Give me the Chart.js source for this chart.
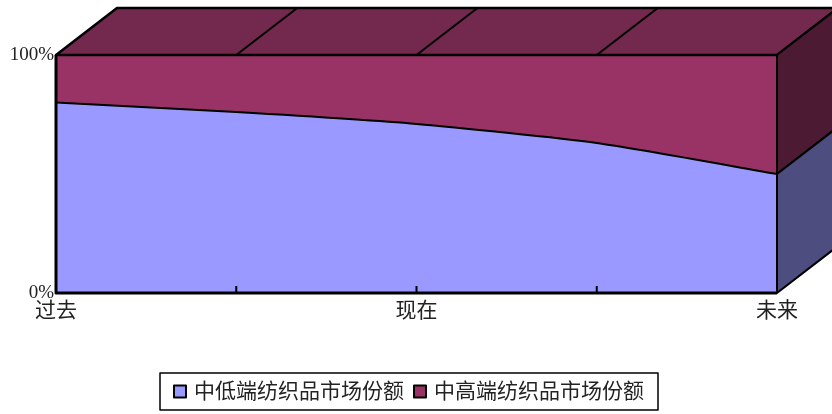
<!DOCTYPE html>
<html>
<head>
<meta charset="utf-8">
<script src="https://cdn.jsdelivr.net/npm/chart.js@4"></script>
<style>
  html, body { margin: 0; padding: 0; background: #fff; }
  #wrap { width: 832px; height: 414px; }
</style>
</head>
<body>
<div id="wrap"><canvas id="shareChart" width="832" height="414"></canvas></div>
<script>
const categories = ["过去", "", "现在", "", "未来"];
const lowEndShare = [80, 76, 71, 63, 50];
const highEndShare = [20, 24, 29, 37, 50];
const seriesNames = ["中低端纺织品市场份额", "中高端纺织品市场份额"];

const lowColor = "#9999ff";
const highColor = "#993366";
const fontFamily = "'Liberation Serif', 'Noto Sans CJK SC', serif";

// depth of the 3D box
const depthX = 61;
const depthY = -47;

const boxPlugin = {
    id: "box3d",
    afterDatasetsDraw(chart) {
        const ctx = chart.ctx;
        const area = chart.chartArea;
        const x = chart.scales.x;
        const y = chart.scales.y;
        const L = area.left, R = area.right, T = area.top, B = area.bottom;
        const yEnd = y.getPixelForValue(lowEndShare[lowEndShare.length - 1]);

        ctx.save();
        ctx.lineJoin = "round";
        ctx.strokeStyle = "#000";

        // top face
        ctx.beginPath();
        ctx.moveTo(L, T);
        ctx.lineTo(R, T);
        ctx.lineTo(R + depthX, T + depthY);
        ctx.lineTo(L + depthX, T + depthY);
        ctx.closePath();
        ctx.fillStyle = "#73284e";
        ctx.fill();
        ctx.lineWidth = 2.5;
        ctx.stroke();

        // dividers on top face
        ctx.lineWidth = 2;
        for (let i = 1; i < categories.length - 1; i++) {
            const px = x.getPixelForValue(i);
            ctx.beginPath();
            ctx.moveTo(px, T);
            ctx.lineTo(px + depthX, T + depthY);
            ctx.stroke();
        }

        // right side, upper part
        ctx.beginPath();
        ctx.moveTo(R, T);
        ctx.lineTo(R + depthX, T + depthY);
        ctx.lineTo(R + depthX, yEnd + depthY);
        ctx.lineTo(R, yEnd);
        ctx.closePath();
        ctx.fillStyle = "#4d1a33";
        ctx.fill();
        ctx.stroke();

        // right side, lower part
        ctx.beginPath();
        ctx.moveTo(R, yEnd);
        ctx.lineTo(R + depthX, yEnd + depthY);
        ctx.lineTo(R + depthX, B + depthY);
        ctx.lineTo(R, B);
        ctx.closePath();
        ctx.fillStyle = "#4d4d80";
        ctx.fill();
        ctx.stroke();

        // front edges
        ctx.lineWidth = 2;
        ctx.beginPath();
        ctx.moveTo(L, T);
        ctx.lineTo(R, T);
        ctx.lineTo(R, B);
        ctx.stroke();

        ctx.lineWidth = 3;
        ctx.beginPath();
        ctx.moveTo(L, T);
        ctx.lineTo(L, B);
        ctx.lineTo(R, B);
        ctx.stroke();

        // inward tick marks
        ctx.lineWidth = 2;
        for (let i = 1; i < categories.length - 1; i++) {
            const px = x.getPixelForValue(i);
            ctx.beginPath();
            ctx.moveTo(px, B);
            ctx.lineTo(px, B - 7);
            ctx.stroke();
        }

        // legend
        ctx.font = "21px " + fontFamily;
        ctx.textBaseline = "middle";
        const boxL = 160, boxT = 373, boxW = 498, boxH = 37;
        ctx.fillStyle = "#fff";
        ctx.fillRect(boxL, boxT, boxW, boxH);
        ctx.lineWidth = 1.5;
        ctx.strokeRect(boxL, boxT, boxW, boxH);

        const colors = [lowColor, highColor];
        const w0 = ctx.measureText(seriesNames[0]).width;
        const w1 = ctx.measureText(seriesNames[1]).width;
        const total = 12 + 8 + w0 + 10 + 12 + 8 + w1;
        let cx = boxL + (boxW - total) / 2;
        const cy = boxT + boxH / 2;
        seriesNames.forEach((name, i) => {
            ctx.fillStyle = colors[i];
            ctx.fillRect(cx, cy - 6, 12, 12);
            ctx.lineWidth = 2;
            ctx.strokeStyle = "#000";
            ctx.strokeRect(cx, cy - 6, 12, 12);
            ctx.fillStyle = "#222";
            ctx.fillText(name, cx + 20, cy + 1);
            cx += 20 + (i === 0 ? w0 : w1) + 10;
        });
        ctx.restore();
    }
};

new Chart(document.getElementById("shareChart"), {
    type: "line",
    data: {
        labels: categories,
        datasets: [
            {
                label: seriesNames[0],
                data: lowEndShare,
                backgroundColor: lowColor,
                borderColor: "#000",
                borderWidth: 2,
                fill: "origin",
                pointRadius: 0,
                tension: 0.2
            },
            {
                label: seriesNames[1],
                data: highEndShare,
                backgroundColor: highColor,
                borderColor: "#000",
                borderWidth: 0,
                fill: "-1",
                pointRadius: 0,
                tension: 0
            }
        ]
    },
    options: {
        responsive: false,
        animation: false,
        layout: { padding: { top: 55, right: 55, left: 0, bottom: 0 } },
        plugins: {
            legend: { display: false },
            tooltip: { enabled: false }
        },
        scales: {
            x: {
                offset: false,
                grid: { display: false, drawTicks: false },
                border: { display: false },
                ticks: {
                    autoSkip: false,
                    maxRotation: 0,
                    padding: 6,
                    color: "#222",
                    font: { family: fontFamily, size: 21 }
                },
                afterFit: (scale) => { scale.height = 121; }
            },
            y: {
                stacked: true,
                min: 0,
                max: 100,
                grid: { display: false, drawTicks: false },
                border: { display: false },
                ticks: {
                    stepSize: 100,
                    padding: 2,
                    color: "#222",
                    font: { family: fontFamily, size: 19 },
                    callback: (v) => v + "%"
                },
                afterFit: (scale) => { scale.width = 56; }
            }
        }
    },
    plugins: [boxPlugin]
});
</script>
</body>
</html>
